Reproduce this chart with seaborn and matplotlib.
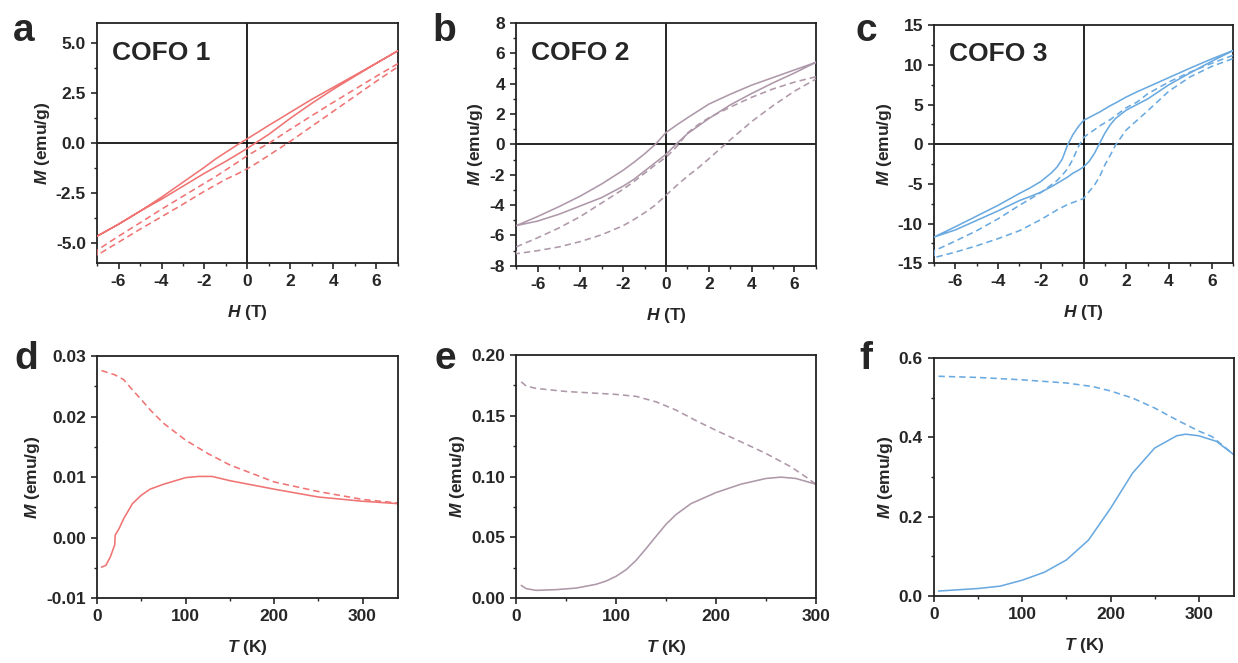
import numpy as np
import pandas as pd
import matplotlib
matplotlib.use("Agg")
import matplotlib.pyplot as plt
from matplotlib.ticker import MultipleLocator, FormatStrFormatter
import seaborn as sns

# ---------------- data ----------------
# field grid, descending branch (+7 -> -7) and ascending branch (-7 -> +7)
H_DESC = [7, 6, 5, 4, 3, 2, 1.5, 1, 0.5, 0, -0.5, -1, -1.5, -2, -3, -4, -5, -6, -7]
H_ASC = H_DESC[::-1]
H3_DESC = [7, 6, 5, 4, 3, 2.5, 2, 1.5, 1.25, 1, 0.75, 0.5, 0.25, 0,
           -0.25, -0.5, -0.75, -1, -1.25, -1.5, -2, -2.5, -3, -4, -5, -6, -7]
H3_ASC = H3_DESC[::-1]

# COFO 1
cofo1_solid_desc = [4.62, 4.0, 3.4, 2.8, 2.2, 1.55, 1.22, 0.9, 0.56, 0.23, -0.1, -0.45, -0.8, -1.2, -1.95, -2.7, -3.4, -4.05, -4.65]
cofo1_solid_asc = [-4.65, -4.05, -3.4, -2.8, -2.15, -1.5, -1.2, -0.9, -0.58, -0.25, 0.1, 0.45, 0.85, 1.25, 2.0, 2.7, 3.35, 4.0, 4.62]
cofo1_dash_desc = [3.98, 3.35, 2.7, 2.05, 1.38, 0.7, 0.35, 0.0, -0.3, -0.62, -0.98, -1.33, -1.68, -2.0, -2.65, -3.3, -3.98, -4.65, -5.35]
cofo1_dash_asc = [-5.6, -4.95, -4.3, -3.68, -3.05, -2.4, -2.1, -1.8, -1.55, -1.27, -0.95, -0.6, -0.25, 0.1, 0.85, 1.6, 2.35, 3.1, 3.82]

# COFO 2
cofo2_solid_desc = [5.4, 4.9, 4.4, 3.9, 3.3, 2.65, 2.2, 1.75, 1.28, 0.78, 0.0, -0.62, -1.18, -1.7, -2.6, -3.4, -4.1, -4.75, -5.35]
cofo2_solid_asc = [-5.35, -5.05, -4.6, -4.05, -3.5, -2.75, -2.3, -1.75, -1.2, -0.65, 0.05, 0.7, 1.2, 1.7, 2.6, 3.35, 4.05, 4.7, 5.4]
cofo2_dash_desc = [4.45, 4.1, 3.65, 3.1, 2.45, 1.75, 1.3, 0.75, -0.15, -0.85, -1.35, -1.9, -2.45, -2.95, -3.85, -4.75, -5.5, -6.15, -6.75]
cofo2_dash_asc = [-7.2, -7.0, -6.75, -6.4, -5.95, -5.35, -4.95, -4.5, -4.0, -3.35, -2.7, -2.1, -1.55, -0.95, 0.3, 1.5, 2.55, 3.5, 4.3]

# COFO 3
cofo3_solid_desc = [11.8, 10.75, 9.6, 8.4, 7.2, 6.6, 5.95, 5.2, 4.85, 4.45, 4.05, 3.7, 3.35, 3.0,
                    2.2, 1.2, -0.1, -1.9, -2.9, -3.6, -4.7, -5.5, -6.2, -7.7, -9.05, -10.4, -11.7]
cofo3_solid_asc = [-11.7, -10.8, -9.6, -8.4, -7.1, -6.6, -6.05, -5.35, -4.95, -4.55, -4.15, -3.65, -3.3, -2.86,
                   -2.2, -1.2, 0.1, 1.4, 2.45, 3.25, 4.3, 5.0, 5.7, 7.5, 9.0, 10.45, 11.8]
cofo3_dash_desc = [11.2, 10.2, 9.1, 7.85, 6.35, 5.3, 4.6, 3.6, 3.1, 2.7, 2.3, 1.8, 1.35, 0.84,
                   -0.35, -1.9, -3.1, -3.9, -4.6, -5.1, -6.1, -6.9, -7.7, -9.4, -10.9, -12.2, -13.45]
cofo3_dash_asc = [-14.3, -13.6, -12.8, -11.9, -10.9, -10.2, -9.5, -8.7, -8.3, -7.95, -7.6, -7.35, -7.1, -6.85,
                  -6.0, -5.2, -4.1, -2.6, -1.4, -0.1, 1.8, 3.0, 4.2, 6.7, 8.5, 9.8, 10.8]

# M(T) curves
T_d_solid = [5, 10, 15, 20, 20.5, 25, 30, 40, 50, 60, 75, 100, 115, 130, 150, 175, 200, 250, 300, 340]
M_d_solid = [-0.0049, -0.0046, -0.0032, -0.0012, 0.0004, 0.0015, 0.0031, 0.0056, 0.0070, 0.0080, 0.0088, 0.0099, 0.0101, 0.0101, 0.0094, 0.0087, 0.0080, 0.0067, 0.0060, 0.0056]
T_d_dash = [5, 20, 30, 40, 50, 60, 75, 100, 125, 150, 175, 200, 250, 300, 340]
M_d_dash = [0.0276, 0.0269, 0.0261, 0.0244, 0.0228, 0.0211, 0.0189, 0.0161, 0.0139, 0.0120, 0.0106, 0.0092, 0.0076, 0.0063, 0.0057]

T_e_solid = [5, 10, 20, 40, 60, 80, 90, 100, 110, 120, 130, 140, 150, 160, 175, 200, 225, 250, 265, 280, 300]
M_e_solid = [0.0104, 0.0077, 0.0063, 0.0069, 0.0082, 0.0113, 0.0140, 0.0179, 0.0233, 0.0310, 0.0407, 0.0508, 0.0607, 0.0687, 0.0777, 0.0868, 0.0937, 0.0984, 0.0995, 0.0984, 0.0937]
T_e_dash = [5, 10, 20, 50, 100, 120, 140, 160, 180, 200, 225, 250, 275, 290, 300]
M_e_dash = [0.178, 0.1745, 0.1725, 0.170, 0.1676, 0.166, 0.1615, 0.1547, 0.146, 0.138, 0.1286, 0.119, 0.108, 0.0997, 0.0937]

T_f_solid = [5, 50, 75, 100, 125, 150, 175, 200, 225, 250, 275, 285, 300, 320, 340]
M_f_solid = [0.0126, 0.019, 0.025, 0.040, 0.060, 0.091, 0.141, 0.221, 0.310, 0.373, 0.404, 0.408, 0.404, 0.390, 0.356]
T_f_dash = [5, 50, 100, 150, 180, 200, 225, 250, 275, 300, 315, 340]
M_f_dash = [0.554, 0.551, 0.545, 0.537, 0.528, 0.517, 0.499, 0.474, 0.444, 0.416, 0.402, 0.356]

TITLES = ["COFO 1", "COFO 2", "COFO 3"]
LETTERS = ["a", "b", "c", "d", "e", "f"]
COLORS = ["#F07474", "#AE98A9", "#6AAAE0"]

# ---------------- style ----------------
sns.set_style("ticks")
plt.rcParams["font.family"] = ["Liberation Sans", "DejaVu Sans"]
plt.rcParams["font.weight"] = "bold"
plt.rcParams["axes.unicode_minus"] = False
plt.rcParams["mathtext.fontset"] = "custom"
plt.rcParams["mathtext.rm"] = "Liberation Sans:bold"
plt.rcParams["mathtext.it"] = "Liberation Sans:bold:italic"
plt.rcParams["mathtext.bf"] = "Liberation Sans:bold"

fig = plt.figure(figsize=(12.38, 6.63), dpi=100)

top_pos = [[0.0784, 0.603, 0.243, 0.362],
           [0.417, 0.599, 0.242, 0.3665],
           [0.7545, 0.603, 0.2415, 0.359]]
bot_pos = [[0.0784, 0.098, 0.243, 0.365],
           [0.417, 0.098, 0.242, 0.3665],
           [0.7545, 0.101, 0.2423, 0.359]]

DASH = (0, (4, 2.5))
LW = 1.15
TICK_FS = 12.5
LABEL_FS = 12.5


def style_axes(ax):
    for s in ax.spines.values():
        s.set_linewidth(1.3)
        s.set_color("#222222")
    ax.tick_params(which="major", direction="out", length=4, width=1.2,
                   labelsize=TICK_FS, top=False, right=False, pad=4)
    ax.tick_params(which="minor", direction="out", length=2.5, width=1.0,
                   top=False, right=False)
    for lab in ax.get_xticklabels() + ax.get_yticklabels():
        lab.set_fontweight("bold")


def loop_df(hd, ha, desc, asc):
    return pd.DataFrame({"H": hd + ha, "M": desc + asc})


loops = [
    (H_DESC, H_ASC, cofo1_solid_desc, cofo1_solid_asc, cofo1_dash_desc, cofo1_dash_asc, 6, 2.5, "%.1f"),
    (H_DESC, H_ASC, cofo2_solid_desc, cofo2_solid_asc, cofo2_dash_desc, cofo2_dash_asc, 8, 2, "%d"),
    (H3_DESC, H3_ASC, cofo3_solid_desc, cofo3_solid_asc, cofo3_dash_desc, cofo3_dash_asc, 15, 5, "%d"),
]

for i, (hd, ha, sd, sa, dd, da, ylim, ymaj, fmt) in enumerate(loops):
    ax = fig.add_axes(top_pos[i])
    ax.axhline(0, color="black", lw=1.2, zorder=1)
    ax.axvline(0, color="black", lw=1.2, zorder=1)
    sns.lineplot(data=loop_df(hd, ha, sd, sa), x="H", y="M", sort=False, estimator=None,
                 color=COLORS[i], lw=LW, ax=ax, zorder=3)
    sns.lineplot(data=loop_df(hd, ha, dd, da), x="H", y="M", sort=False, estimator=None,
                 color=COLORS[i], lw=LW, linestyle=DASH, ax=ax, zorder=3)
    ax.set_xlim(-7, 7)
    ax.set_ylim(-ylim, ylim)
    ax.xaxis.set_major_locator(MultipleLocator(2))
    ax.xaxis.set_minor_locator(MultipleLocator(1))
    ax.yaxis.set_major_locator(MultipleLocator(ymaj))
    ax.yaxis.set_minor_locator(MultipleLocator(ymaj / 2))
    ax.yaxis.set_major_formatter(FormatStrFormatter(fmt))
    ax.set_xlabel(r"$H$ (T)", fontsize=LABEL_FS, fontweight="bold", labelpad=10)
    ax.set_ylabel(r"$M$ (emu/g)", fontsize=LABEL_FS, fontweight="bold", labelpad=3)
    ax.text(0.05, 0.848, TITLES[i], transform=ax.transAxes, fontsize=19,
            fontweight="bold", va="baseline", ha="left")
    style_axes(ax)

mt = [
    (T_d_solid, M_d_solid, T_d_dash, M_d_dash, (0, 340), (-0.01, 0.03), 0.01, "%.2f"),
    (T_e_solid, M_e_solid, T_e_dash, M_e_dash, (0, 300), (0, 0.2), 0.05, "%.2f"),
    (T_f_solid, M_f_solid, T_f_dash, M_f_dash, (0, 340), (0, 0.6), 0.2, "%.1f"),
]

for i, (ts, ms, td, md, xl, yl, ymaj, fmt) in enumerate(mt):
    ax = fig.add_axes(bot_pos[i])
    sns.lineplot(x=ts, y=ms, sort=False, estimator=None, color=COLORS[i], lw=LW, ax=ax)
    sns.lineplot(x=td, y=md, sort=False, estimator=None, color=COLORS[i], lw=LW,
                 linestyle=DASH, ax=ax)
    ax.set_xlim(*xl)
    ax.set_ylim(*yl)
    ax.xaxis.set_major_locator(MultipleLocator(100))
    ax.xaxis.set_minor_locator(MultipleLocator(50))
    ax.yaxis.set_major_locator(MultipleLocator(ymaj))
    ax.yaxis.set_minor_locator(MultipleLocator(ymaj / 2))
    ax.yaxis.set_major_formatter(FormatStrFormatter(fmt))
    ax.set_xlabel(r"$T$ (K)", fontsize=LABEL_FS, fontweight="bold", labelpad=10)
    ax.set_ylabel(r"$M$ (emu/g)", fontsize=LABEL_FS, fontweight="bold", labelpad=3)
    style_axes(ax)

letter_pos = [(0.0105, 0.938), (0.349, 0.938), (0.6914, 0.938),
              (0.012, 0.4434), (0.3506, 0.4434), (0.694, 0.4434)]
for (x, y), L in zip(letter_pos, LETTERS):
    fig.text(x, y, L, fontsize=28, fontweight="bold", va="baseline", ha="left")

fig.savefig("out.png", dpi=100)
